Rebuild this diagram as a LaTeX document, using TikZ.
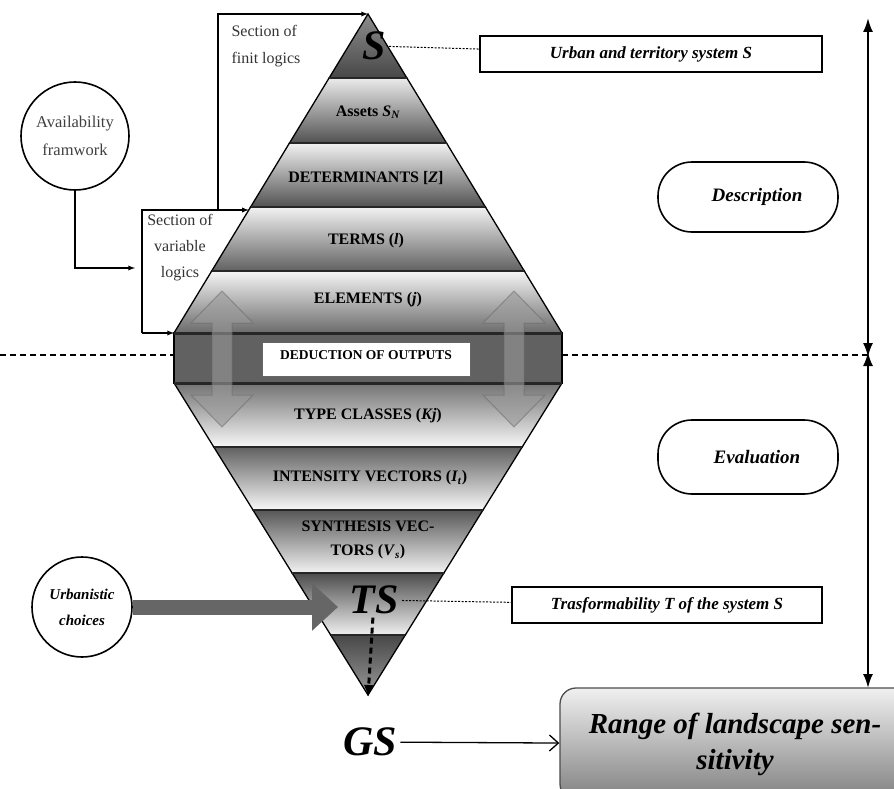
\documentclass[tikz,border=0pt]{standalone}
\usepackage{fontspec}
\setmainfont{Liberation Serif}
\usetikzlibrary{arrows,arrows.meta,shapes,positioning}

\tikzset{
  layer/.style={draw=black, line width=1.3pt},
  seam/.style={line width=3pt, black!85},
  caps/.style={font=\fontsize{16}{18}\selectfont\bfseries},
  sym/.style={font=\fontsize{42}{44}\selectfont\bfseries\itshape},
  tagbox/.style={draw, line width=1.3pt, minimum height=36pt, font=\fontsize{17}{19}\selectfont\bfseries\itshape},
  phase/.style={draw, line width=1.6pt, rounded corners=34pt, minimum width=180pt, minimum height=70pt, font=\fontsize{19}{21}\selectfont\bfseries\itshape},
  bubble/.style={draw, circle, line width=1.6pt, align=center},
  note/.style={align=left, text=black!80, font=\fontsize{16}{20}\selectfont},
  flow/.style={->,>=latex, line width=1.3pt},
  twin/.style={fill=black!40, fill opacity=0.6, draw=black!60, draw opacity=0.5, line width=1pt},
}

\begin{document}
\begin{tikzpicture}[x=1pt,y=-1pt]
  \useasboundingbox (0,0) rectangle (894,789);

  % upper half of the diamond
  \shadedraw[layer, top color=black!45, bottom color=black!72] (368,14) -- (406.9,78) -- (329.1,78) -- cycle;
  \shadedraw[layer, top color=black!8, bottom color=black!68] (329.1,78) -- (406.9,78) -- (446.5,143) -- (289.5,143) -- cycle;
  \shadedraw[layer, top color=black!5, bottom color=black!68] (289.5,143) -- (446.5,143) -- (485.4,207) -- (250.6,207) -- cycle;
  \shadedraw[layer, top color=black!5, bottom color=black!62] (250.6,207) -- (485.4,207) -- (524.3,271) -- (211.7,271) -- cycle;
  \shadedraw[layer, top color=black!4, bottom color=black!58] (211.7,271) -- (524.3,271) -- (562,333) -- (174,333) -- cycle;

  % lower half of the diamond
  \shadedraw[layer, top color=black!55, bottom color=black!3] (174,383) -- (562,383) -- (522.2,447) -- (213.8,447) -- cycle;
  \shadedraw[layer, top color=black!62, bottom color=black!3] (213.8,447) -- (522.2,447) -- (483,510) -- (253,510) -- cycle;
  \shadedraw[layer, top color=black!66, bottom color=black!5] (253,510) -- (483,510) -- (443.9,573) -- (292.1,573) -- cycle;
  \shadedraw[layer, top color=black!70, bottom color=black!6] (292.1,573) -- (443.9,573) -- (405.3,635) -- (330.7,635) -- cycle;
  \shadedraw[layer, top color=black!72, bottom color=black!40] (330.7,635) -- (405.3,635) -- (368,695) -- cycle;

  % middle band
  \filldraw[layer, fill=black!62] (174,333) rectangle (562,383);
  \draw[seam] (174,333) -- (562,333);
  \draw[seam] (174,383) -- (562,383);
  \foreach \y/\a/\b in {78/329.1/406.9, 143/289.5/446.5, 207/250.6/485.4, 271/211.7/524.3,
                        447/213.8/522.2, 510/253/483, 573/292.1/443.9, 635/330.7/405.3}
    \draw[seam, line width=2.5pt] (\a,\y) -- (\b,\y);

  \node[draw=black!60, line width=1pt, fill=white, minimum width=208pt, minimum height=34pt,
        font=\fontsize{13.5}{14}\selectfont\bfseries] (deduce) at (366,359) {\raisebox{7pt}{DEDUCTION OF OUTPUTS}};

  % twin arrows across the band
  \foreach \c in {222,514}
    \draw[twin] (\c,291) -- (\c+31,323) -- (\c+10,323) -- (\c+10,395) -- (\c+31,395) -- (\c,427)
      -- (\c-31,395) -- (\c-10,395) -- (\c-10,323) -- (\c-31,323) -- cycle;

  % labels of the layers
  \node[sym] (S) at (374,46) {S};
  \node[caps, font=\fontsize{16}{18}\selectfont\bfseries] (assets) at (368,112) {Assets \textit{S}\textsubscript{\textit{N}}};
  \node[caps] (determ) at (366,178) {DETERMINANTS [\textit{Z}]};
  \node[caps] (terms) at (366,241) {TERMS (\textit{l})};
  \node[caps] (elems) at (368,300) {ELEMENTS (\textit{j})};
  \node[caps] (types) at (368,416) {TYPE CLASSES (\textit{Kj})};
  \node[caps] (intens) at (370,478) {INTENSITY VECTORS (\textit{I}\textsubscript{\textit{t}})};
  \node[caps, align=center, font=\fontsize{16}{24}\selectfont\bfseries] (synth) at (368,540) {SYNTHESIS VEC-\\TORS (\textit{V}\textsubscript{\textit{s}})};
  \node[sym] (TS) at (374,600) {TS};
  \node[sym] (GS) at (370,742) {GS};
  \coordinate (apex) at (368,14);
  \coordinate (tip) at (368,697);
  \coordinate (bandtl) at (174,333);

  % side notes
  \node[tagbox, minimum width=342pt] (urban) at (651,54) {Urban and territory system \textit{S}};
  \node[tagbox, minimum width=310pt] (transf) at (667,605) {Trasformability \textit{T} of the system \textit{S}};
  \node[phase] (descr) at (748,197) {\hspace*{18pt}Description};
  \node[phase, minimum height=74pt] (evalu) at (748,457) {\hspace*{18pt}Evaluation};
  \node[draw=black!70, line width=1.3pt, rounded corners=16pt, minimum width=350pt, minimum height=112pt,
        top color=black!6, bottom color=black!50, align=center,
        font=\fontsize{29}{36}\selectfont\bfseries\itshape] (range) at (735,744) {Range of landscape sen-\\sitivity};

  \draw[densely dashed, line width=1pt, dash pattern=on 2pt off 1.5pt] (S) -- (urban);
  \draw[densely dashed, line width=1pt, dash pattern=on 2pt off 1.5pt] (TS) -- (transf);
  \draw[->, >={Straight Barb[length=9pt,width=16pt]}, line width=1.3pt] (GS) -- (range);
  \draw[line width=3pt, dash pattern=on 6pt off 4pt, -{Latex[length=12pt,width=10pt]}] (TS) -- (tip);

  % phase line
  \coordinate (lft) at (0,355);
  \coordinate (bandl) at (174,355);
  \coordinate (bandr) at (562,355);
  \coordinate (mid) at (868,355);
  \coordinate (top) at (868,18);
  \coordinate (bot) at (868,688);
  \draw[line width=2.5pt, dash pattern=on 6pt off 4pt] (lft) -- (bandl);
  \draw[line width=2.5pt, dash pattern=on 6pt off 4pt] (bandr) -- (mid);
  \draw[{Latex[length=14pt,width=10pt]}-{Latex[length=14pt,width=10pt]}, line width=2pt] (top) -- ([yshift=-2pt]mid);
  \draw[{Latex[length=14pt,width=10pt]}-{Latex[length=14pt,width=10pt]}, line width=2pt] ([yshift=3pt]mid) -- (bot);

  % sections and inputs
  \node[bubble, minimum size=108pt, font=\fontsize{16.5}{28}\selectfont, text=black!75] (avail) at (75,136) {Availability\\framwork};
  \node[bubble, minimum size=100pt, font=\fontsize{15}{26}\selectfont\bfseries\itshape] (urbch) at (82,607) {Urbanistic\\choices};
  \coordinate (varin) at (135,268);
  \coordinate (vartop) at (142,210);
  \coordinate (varbot) at (142,333);
  \coordinate (edge) at (248.8,210);
  \coordinate (fintop) at (218,14);
  \coordinate (finbot) at (218,210);
  \node[note, anchor=west, font=\fontsize{16}{27}\selectfont] (finit) at (228,46) {Section of\\finit logics};
  \node[note, align=center, font=\fontsize{16}{26}\selectfont] (varia) at (180,248) {Section of\\variable\\logics};

  \draw[flow] (avail.south) |- (varin);
  \draw[flow] (varbot) -- (vartop) -- (edge);
  \draw[flow] (varbot) -- (bandtl);
  \draw[flow] (finbot) -- (fintop) -- (apex);
  \draw[line width=15pt, black!60, -{Triangle[length=26pt,width=46pt]}] (urbch) -- (338,607);
\end{tikzpicture}
\end{document}
